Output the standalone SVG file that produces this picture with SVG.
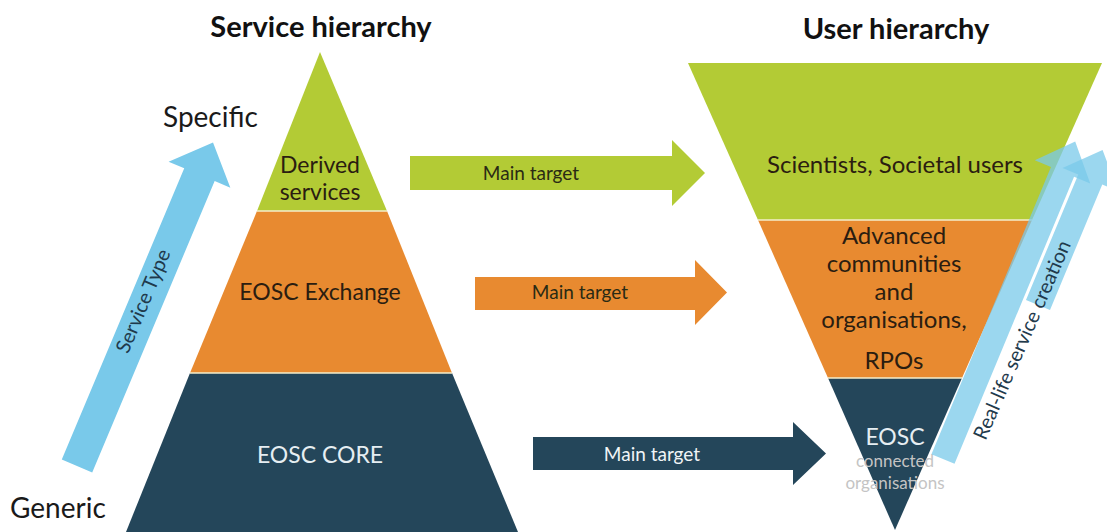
<svg xmlns="http://www.w3.org/2000/svg" width="1107" height="532" viewBox="0 0 1107 532">
<style>
text{font-family:Lato,"Open Sans","Liberation Sans",sans-serif;}
.title{font-size:29px;font-weight:bold;fill:#111;text-anchor:middle}
.side{font-size:28px;fill:#1a1a1a}
.lbl{font-size:23px;fill:#2b1d10;text-anchor:middle}
.ulbl{font-size:24px;fill:#2b1d10;text-anchor:middle}
.lblw{font-size:23px;fill:#e6eef2;text-anchor:middle}
.mt{font-size:19px;fill:#2a2a14;text-anchor:middle}
.mtw{font-size:19px;fill:#f0f4f6;text-anchor:middle}
.g{fill:#b3cb35}
.o{fill:#e88a30}
.n{fill:#24465a}
.sep{stroke:#f4eecb;stroke-width:1.5}
.blue{fill:#79c9ea}
.rot{font-size:20px;fill:#1f3a4c;text-anchor:middle}
.gray{font-size:17px;fill:#c4c4c4;text-anchor:middle}
</style>
<rect width="1107" height="532" fill="#ffffff"/>
<text class="title" x="321" y="37">Service hierarchy</text>
<text class="title" x="896" y="39">User hierarchy</text>
<text class="side" x="163" y="127">Specific</text>
<text class="side" x="10" y="518">Generic</text>

<g id="service-type">
<polygon class="blue" transform="translate(77,466) rotate(-67.2)" points="0,-16.5 316,-16.5 316,-33.5 351,0 316,33.5 316,16.5 0,16.5"/>
<text class="rot" transform="translate(143,301) rotate(-67.2)" y="7">Service  Type</text>
</g>

<g id="pyramid-derived">
<polygon class="g" points="320,52 387,211 257,211"/>
<text class="lbl" x="320" y="173">Derived</text>
<text class="lbl" x="320" y="200">services</text>
</g>
<g id="pyramid-exchange">
<polygon class="o" points="257,211 387,211 452,373 190,373"/>
<text class="lbl" x="320" y="300">EOSC Exchange</text>
</g>
<g id="pyramid-core">
<polygon class="n" points="190,373 452,373 518,532 126,532"/>
<text class="lblw" x="320" y="463">EOSC CORE</text>
</g>
<line class="sep" x1="257" y1="211" x2="387" y2="211"/>
<line class="sep" x1="190" y1="373" x2="452" y2="373"/>

<g id="user-scientists">
<polygon class="g" points="688,63 1102,63 1032,220 758,220"/>
<text class="ulbl" x="895" y="173">Scientists, Societal users</text>
</g>
<g id="user-communities">
<polygon class="o" points="758,220 1032,220 962,378 828,378"/>
<text class="ulbl" x="894" y="244">Advanced</text>
<text class="ulbl" x="894" y="272">communities</text>
<text class="ulbl" x="894" y="300">and</text>
<text class="ulbl" x="894" y="328">organisations,</text>
<text class="ulbl" x="894" y="369">RPOs</text>
</g>
<g id="user-eosc">
<polygon class="n" points="828,378 962,378 895,530"/>
<text class="lblw" x="895" y="445" font-size="22">EOSC</text>
<text class="gray" x="895" y="467">connected</text>
<text class="gray" x="895" y="489">organisations</text>
</g>
<line class="sep" x1="758" y1="220" x2="1032" y2="220"/>
<line class="sep" x1="828" y1="378" x2="962" y2="378"/>

<g id="connectors">
<polygon class="g" points="410,156 672,156 672,140 705,173 672,206 672,190 410,190"/>
<text class="mt" x="531" y="180">Main target</text>
<polygon class="o" points="475,277 695,277 695,260 727,292.5 695,325 695,310 475,310"/>
<text class="mt" x="580" y="299">Main target</text>
<polygon class="n" points="533,437 793,437 793,422 826,453.5 793,485 793,470 533,470"/>
<text class="mtw" x="652" y="461">Main target</text>
</g>

<g id="real-life">
<polygon class="blue" opacity="0.75" transform="translate(943,459) rotate(-67.4)" points="0,-12.5 311,-12.5 311,-30 344,0 311,30 311,12.5 0,12.5"/>
<polygon class="blue" opacity="0.75" transform="translate(1038,305) rotate(-67.4)" points="0,-13 136,-13 136,-30 168,0 136,30 136,13 0,13"/>
<text class="rot" transform="translate(1022,340) rotate(-66.5)" y="7">Real-life service creation</text>
</g>
</svg>
